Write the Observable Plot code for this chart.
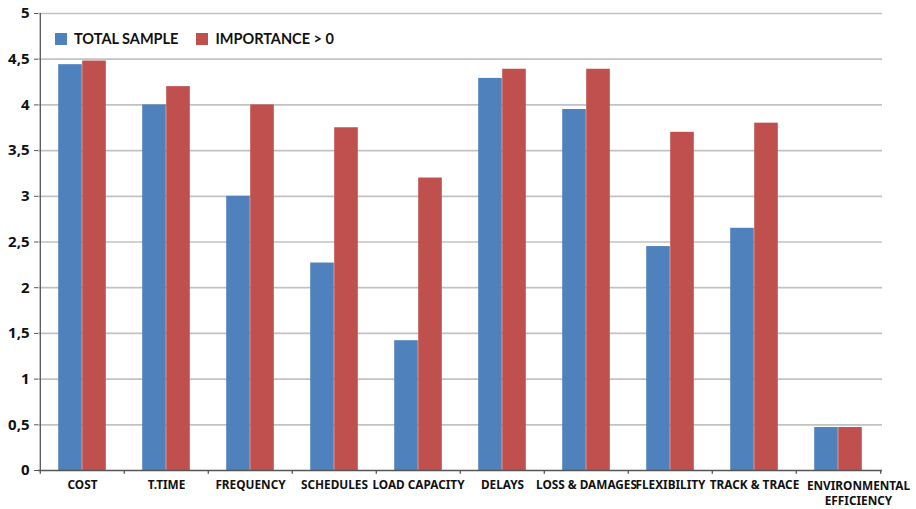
<!DOCTYPE html>
<html><head><meta charset="utf-8">
<script src="https://cdn.jsdelivr.net/npm/d3@7"></script>
<script src="https://cdn.jsdelivr.net/npm/@observablehq/plot@0.6"></script>
<style>
body{margin:0;background:#fff;font-family:Lato,"Open Sans",sans-serif;}
#wrap{position:relative;width:916px;height:509px;}
#legend{position:absolute;left:55px;top:30px;display:flex;align-items:center;font-weight:700;font-size:14.5px;color:#111;}
#legend .sw{display:inline-block;width:12px;height:12px;margin-right:7px;}
#legend .item{display:flex;align-items:center;margin-right:18px;}
svg text{font-weight:700;}
</style></head><body><div id="wrap"><div id="legend"></div></div>
<script>
const categories = ["COST","T.TIME","FREQUENCY","SCHEDULES","LOAD CAPACITY","DELAYS","LOSS & DAMAGES","FLEXIBILITY","TRACK & TRACE","ENVIRONMENTAL\nEFFICIENCY"];
const totalSample = [4.44, 4.00, 3.00, 2.27, 1.42, 4.29, 3.95, 2.45, 2.65, 0.47];
const importance = [4.48, 4.20, 4.00, 3.75, 3.20, 4.39, 4.39, 3.70, 3.80, 0.47];
const seriesNames = ["TOTAL SAMPLE", "IMPORTANCE > 0"];
const seriesColors = ["#4f81bd", "#c0504d"];
const yTicks = [0, 0.5, 1, 1.5, 2, 2.5, 3, 3.5, 4, 4.5, 5];

const width = 916, height = 509;
const mL = 38, mR = 34, mT = 13, mB = 39;
const bw = (width - mL - mR) / categories.length;
const barW = 24, outer = (bw - 2 * barW) / 2;

const rowsA = categories.map((c, i) => ({category: c, value: totalSample[i]}));
const rowsB = categories.map((c, i) => ({category: c, value: importance[i]}));
const lastCat = categories[categories.length - 1];

const chart = Plot.plot({
  width, height,
  marginLeft: mL, marginRight: mR, marginTop: mT, marginBottom: mB,
  x: {domain: categories, padding: 0, axis: null, label: null},
  y: {domain: [0, 5], axis: null, label: null},
  marks: [
    Plot.gridY(yTicks.filter(d => d > 0), {stroke: "#c2c2c2", strokeOpacity: 1, strokeWidth: 1.7}),
    Plot.barY(rowsA, {x: "category", y: "value", fill: seriesColors[0], insetLeft: outer, insetRight: outer + barW}),
    Plot.barY(rowsB, {x: "category", y: "value", fill: seriesColors[1], insetLeft: outer + barW, insetRight: outer}),
    Plot.ruleY([0], {stroke: "#555", strokeWidth: 1.3}),
    Plot.ruleX([categories[0]], {dx: -bw / 2, stroke: "#555", strokeWidth: 1.3}),
    Plot.ruleX(categories, {y1: 0, y2: -0.04, dx: -bw / 2, stroke: "#555", strokeWidth: 1.3}),
    Plot.ruleX([lastCat], {y1: 0, y2: -0.04, dx: bw / 2, stroke: "#555", strokeWidth: 1.3}),
    Plot.axisY({ticks: yTicks, label: null, tickFormat: d => String(d).replace(".", ","), tickSize: 4, tickPadding: 5, fontSize: 15, stroke: "#555", color: "#111"}),
    Plot.text(categories.filter(c => c !== lastCat), {x: d => d, y: 0, dy: 10, lineAnchor: "top", fontSize: 11.8, fill: "#111"}),
    Plot.text([lastCat], {x: d => d, y: 0, dy: 9, dx: 20, lineAnchor: "top", lineHeight: 1.25, fontSize: 11.8, fill: "#111"})
  ]
});
document.getElementById("wrap").appendChild(chart);

const legend = document.getElementById("legend");
seriesNames.forEach((n, i) => {
  const it = document.createElement("span");
  it.className = "item";
  it.innerHTML = `<span class="sw" style="background:${seriesColors[i]}"></span>${n}`;
  legend.appendChild(it);
});
</script>
</body></html>
